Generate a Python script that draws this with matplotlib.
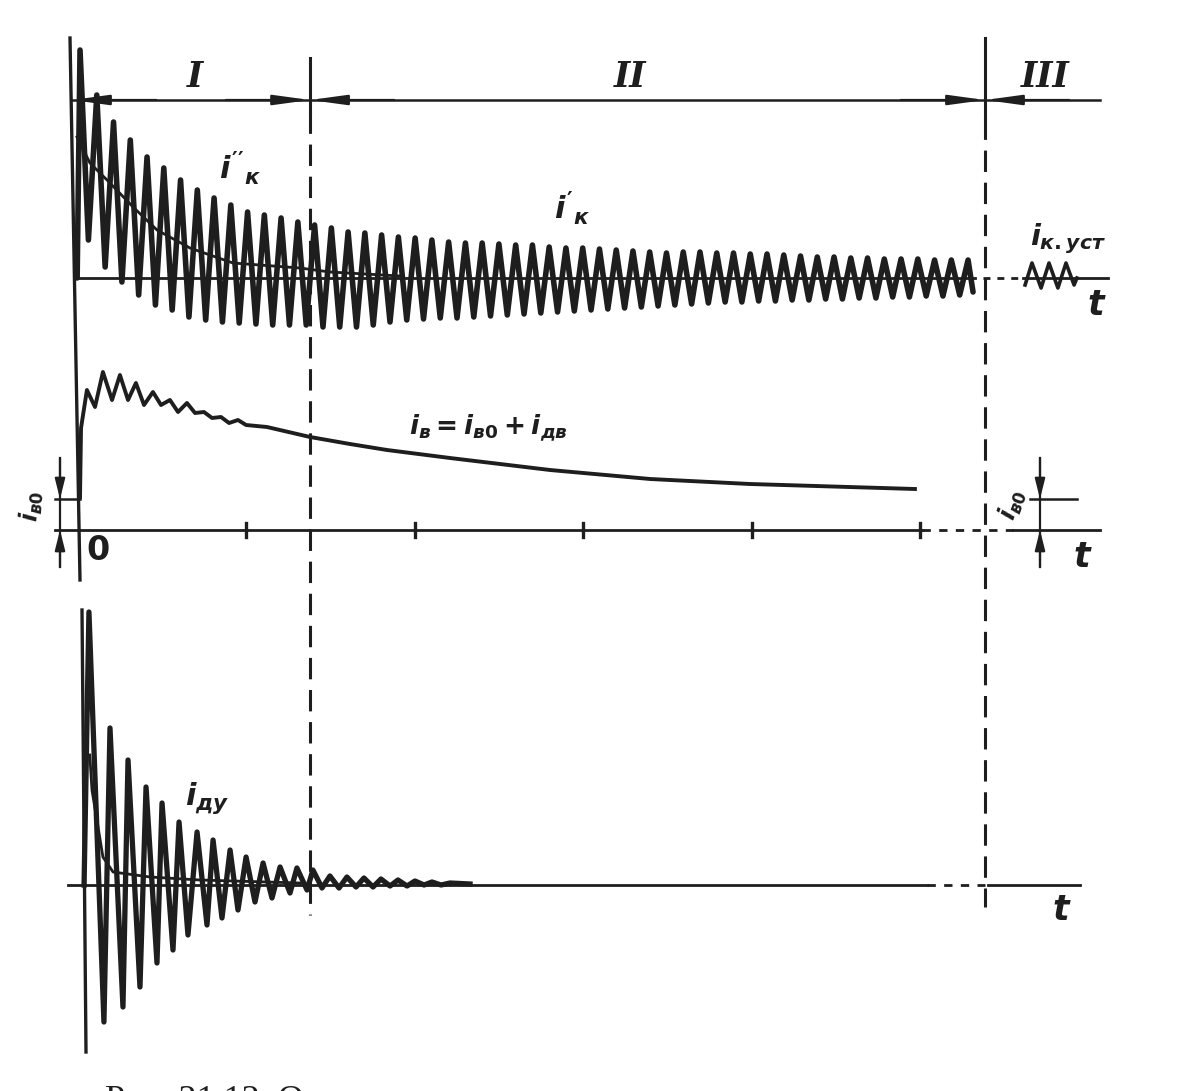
import numpy as np
import matplotlib
matplotlib.use("Agg")
import matplotlib.pyplot as plt

plt.rcParams['mathtext.fontset'] = 'custom'
plt.rcParams['mathtext.it'] = 'DejaVu Sans:italic:bold'
plt.rcParams['mathtext.rm'] = 'DejaVu Sans:bold'
plt.rcParams['mathtext.bf'] = 'DejaVu Sans:bold'

INK = '#1e1e1e'

# ------------------------------------------------------------------ data
time_ticks = [1, 2, 3, 4, 5]
t_boundaries = [1.378, 5.386]            # I | II | III
region_labels = ['I', 'II', 'III']
region_label_t = [0.695, 3.278, 5.742]

# stator short-circuit current i_k (top): period and per-cycle extremes
ik_period = 0.0995
ik_first_peak_t = 0.012
ik_peaks = [2.28, 1.83, 1.56, 1.38, 1.21, 1.10, 0.98, 0.88, 0.80, 0.73,
            0.66, 0.63, 0.60, 0.56, 0.53, 0.50, 0.46, 0.45, 0.43, 0.41,
            0.40, 0.38, 0.36, 0.35, 0.35, 0.34, 0.33, 0.33, 0.31, 0.30,
            0.30, 0.29, 0.28, 0.27, 0.26, 0.25, 0.26, 0.26, 0.25, 0.25,
            0.24, 0.24, 0.23, 0.22, 0.21, 0.21, 0.20, 0.20, 0.19, 0.19,
            0.19, 0.18, 0.18, 0.18]
ik_troughs = [0.38, 0.11, -0.04, -0.17, -0.27, -0.32, -0.39, -0.42, -0.44, -0.45,
              -0.46, -0.47, -0.47, -0.47, -0.49, -0.49, -0.49, -0.47, -0.44, -0.42,
              -0.41, -0.40, -0.40, -0.39, -0.38, -0.37, -0.36, -0.35, -0.34, -0.33,
              -0.32, -0.31, -0.30, -0.29, -0.28, -0.27, -0.26, -0.25, -0.24, -0.24,
              -0.23, -0.23, -0.22, -0.22, -0.21, -0.21, -0.20, -0.20, -0.19, -0.19,
              -0.18, -0.18, -0.17]
ik_start = (-0.005, 0.0)
ik_end = (5.315, -0.14)
# aperiodic (centre) line of i_k
ik_aper_t = [-0.006, 0.071, 0.190, 0.327, 0.469, 0.665, 0.920, 1.318, 1.496, 1.912]
ik_aper = [1.41, 1.15, 0.95, 0.71, 0.48, 0.30, 0.15, 0.10, 0.06, 0.02]
# steady-state current sketch (region III)
ik_steady_t = [5.624, 5.665, 5.719, 5.766, 5.819, 5.867, 5.915, 5.932]
ik_steady = [-0.07, 0.15, -0.10, 0.15, -0.10, 0.15, -0.07, 0.0]

# field current i_v (middle)
iv0 = 0.31
iv_t = [0.012, 0.018, 0.053, 0.101, 0.148, 0.202, 0.249, 0.297, 0.344, 0.392,
        0.445, 0.493, 0.546, 0.594, 0.647, 0.695, 0.748, 0.796, 0.849, 0.897,
        0.950, 0.998, 1.122, 1.378, 1.615, 1.835, 2.209, 2.803, 3.397, 3.990, 4.970]
iv = [0.33, 1.02, 1.40, 1.23, 1.58, 1.30, 1.55, 1.30, 1.47, 1.25,
      1.38, 1.25, 1.30, 1.18, 1.27, 1.17, 1.18, 1.12, 1.13, 1.07,
      1.10, 1.05, 1.03, 0.93, 0.86, 0.80, 0.72, 0.60, 0.51, 0.46, 0.41]

# damper winding current i_dy (bottom)
idy_t = [0.036, 0.065, 0.154, 0.190, 0.267, 0.297, 0.368, 0.404, 0.469, 0.499,
         0.564, 0.600, 0.653, 0.707, 0.766, 0.802, 0.855, 0.903, 0.950, 0.998,
         1.051, 1.099, 1.152, 1.200, 1.259, 1.300, 1.360, 1.395, 1.449, 1.496,
         1.550, 1.597, 1.651, 1.698, 1.752, 1.799, 1.853, 1.900, 1.954, 2.001,
         2.055, 2.102, 2.156, 2.209, 2.328]
idy = [0.0, 2.73, -1.37, 1.57, -1.22, 1.25, -1.02, 0.98, -0.78, 0.82,
       -0.65, 0.63, -0.50, 0.53, -0.40, 0.45, -0.33, 0.35, -0.25, 0.28,
       -0.17, 0.22, -0.13, 0.18, -0.08, 0.17, -0.05, 0.15, -0.03, 0.09,
       -0.03, 0.08, -0.02, 0.07, -0.02, 0.06, -0.01, 0.05, -0.01, 0.04,
       0.00, 0.03, 0.00, 0.02, 0.01]
idy_aper_t = [0.070, 0.083, 0.148, 0.208, 0.428, 0.724, 1.318]
idy_aper = [1.30, 0.95, 0.28, 0.13, 0.08, 0.05, 0.02]

caption = "Рис. 21.12. О"

# ------------------------------------------------------------------ layout
W, H = 1192, 1091
X0, SX = 78.0, 168.4          # pixel of t = 0, pixels per time unit
PX = 100.0                    # pixels per current unit
XL = (-X0 / SX, (W - X0) / SX)

fig = plt.figure(figsize=(W / 100, H / 100), dpi=100)
fig.patch.set_facecolor('white')


def panel(row_top, row_bot, zero_row):
    ax = fig.add_axes([0, 1 - row_bot / H, 1, (row_bot - row_top) / H])
    ax.set_xlim(*XL)
    ax.set_ylim(-(row_bot - zero_row) / PX, (zero_row - row_top) / PX)
    ax.axis('off')
    ax.patch.set_alpha(0)
    return ax


ax_top = panel(0, 340, 278)
ax_mid = panel(340, 600, 530)
ax_bot = panel(600, H, 885)
ov = fig.add_axes([0, 0, 1, 1])
ov.set_xlim(*XL)
ov.set_ylim(H, 0)
ov.axis('off')
ov.patch.set_alpha(0)

LW_AX = 2.0


def arrowhead(ax, tip, tail, hl=2.2, hw=0.3, lw=1.6):
    ax.annotate('', xy=tip, xytext=tail,
                arrowprops=dict(arrowstyle=f'-|>,head_length={hl},head_width={hw}',
                                color=INK, lw=lw, shrinkA=0, shrinkB=0))


def t_of(px):
    return (px - X0) / SX

# ------------------------------------------------------------------ frame lines (overlay)
ov.plot([t_of(70), t_of(80)], [38, 580], color=INK, lw=2.4)
ov.plot([t_of(82), t_of(86)], [610, 1052], color=INK, lw=2.4)
b1, b2 = t_boundaries
ov.plot([b1, b1], [58, 112], color=INK, lw=2.2)
ov.plot([b1, b1], [112, 915], color=INK, lw=2.2, ls=(0, (7, 3.5)))
ov.plot([b2, b2], [38, 118], color=INK, lw=2.2)
ov.plot([b2, b2], [118, 907], color=INK, lw=2.2, ls=(0, (7, 3.5)))

# ------------------------------------------------------------------ top diagram
ax_top.plot([t_of(75), t_of(975)], [0, 0], color=INK, lw=LW_AX)
ax_top.plot([t_of(983), t_of(1023)], [0, 0], color=INK, lw=LW_AX, ls=(0, (2.5, 2.5)))
ax_top.plot([t_of(1023), t_of(1108)], [0, 0], color=INK, lw=LW_AX)

n = len(ik_peaks)
pk_t = ik_first_peak_t + ik_period * np.arange(n)
tr_t = pk_t[:len(ik_troughs)] + ik_period / 2
ts, vs = [ik_start[0]], [ik_start[1]]
for k in range(n):
    ts.append(pk_t[k]); vs.append(ik_peaks[k])
    if k < len(ik_troughs):
        ts.append(tr_t[k]); vs.append(ik_troughs[k])
ts.append(ik_end[0]); vs.append(ik_end[1])
ax_top.plot(ts, vs, color=INK, lw=4.0, solid_joinstyle='round', solid_capstyle='round')
ax_top.plot(ik_aper_t, ik_aper, color=INK, lw=2.0)
ax_top.plot(ik_steady_t, ik_steady, color=INK, lw=2.6, solid_joinstyle='round')

# stage dimension line
y_dim = 1.78
ax_top.plot([t_of(72), t_of(1100)], [y_dim, y_dim], color=INK, lw=1.8)
arrowhead(ax_top, (t_of(72), y_dim), (t_of(72) + 0.5, y_dim))
arrowhead(ax_top, (b1, y_dim), (b1 - 0.5, y_dim))
arrowhead(ax_top, (b1, y_dim), (b1 + 0.5, y_dim))
arrowhead(ax_top, (b2, y_dim), (b2 - 0.5, y_dim))
arrowhead(ax_top, (b2, y_dim), (b2 + 0.5, y_dim))
for lab, tl in zip(region_labels, region_label_t):
    ax_top.text(tl, 2.01, lab, fontsize=25, family='DejaVu Serif', style='italic',
                weight='bold', ha='center', va='center', color=INK)

ax_top.text(0.962, 1.10, r"$i''_к$", fontsize=22, ha='center', va='center', color=INK)
ax_top.text(2.933, 0.70, r"$i'_к$", fontsize=22, ha='center', va='center', color=INK)
ax_top.text(5.879, 0.39, r"$i_{к.уст}$", fontsize=21, ha='center', va='center', color=INK)
ax_top.text(6.051, -0.27, r"$t$", fontsize=25, ha='center', va='center', color=INK)

# ------------------------------------------------------------------ middle diagram
ax_mid.plot([t_of(55), t_of(922)], [0, 0], color=INK, lw=LW_AX)
ax_mid.plot([t_of(922), t_of(1013)], [0, 0], color=INK, lw=LW_AX, ls=(0, (3, 3)))
ax_mid.plot([t_of(1013), t_of(1100)], [0, 0], color=INK, lw=LW_AX)
for tk in time_ticks:
    ax_mid.plot([tk, tk], [-0.07, 0.07], color=INK, lw=2.4)
ax_mid.plot(iv_t, iv, color=INK, lw=2.8, solid_joinstyle='round')

for t_line0, t_line1, t_arr in [(t_of(55), t_of(80), t_of(60)),
                                (t_of(1030), t_of(1077), t_of(1040))]:
    ax_mid.plot([t_line0, t_line1], [iv0, iv0], color=INK, lw=1.8)
    ax_mid.plot([t_arr, t_arr], [0.72, -0.37], color=INK, lw=1.6)
    arrowhead(ax_mid, (t_arr, iv0), (t_arr, 0.72), hl=1.2, hw=0.3)
    arrowhead(ax_mid, (t_arr, 0.0), (t_arr, -0.37), hl=1.2, hw=0.3)

ax_mid.text(2.44, 1.02, r"$i_в = i_{в0} + i_{дв}$", fontsize=19, ha='center',
            va='center', color=INK)
ax_mid.text(-0.275, 0.24, r"$i_{в0}$", fontsize=17, rotation=85, ha='center',
            va='center', color=INK)
ax_mid.text(5.55, 0.25, r"$i_{в0}$", fontsize=17, rotation=70, ha='center',
            va='center', color=INK)
ax_mid.text(0.119, -0.20, r"$0$", fontsize=24, ha='center', va='center', color=INK)
ax_mid.text(5.968, -0.27, r"$t$", fontsize=25, ha='center', va='center', color=INK)

# ------------------------------------------------------------------ bottom diagram
ax_bot.plot([t_of(68), t_of(927)], [0, 0], color=INK, lw=LW_AX)
ax_bot.plot([t_of(927), t_of(985)], [0, 0], color=INK, lw=LW_AX, ls=(0, (3, 3)))
ax_bot.plot([t_of(988), t_of(1080)], [0, 0], color=INK, lw=LW_AX)
ax_bot.plot(idy_t, idy, color=INK, lw=3.8, solid_joinstyle='round')
ax_bot.plot(idy_aper_t, idy_aper, color=INK, lw=2.0)
ax_bot.text(0.766, 0.87, r"$i_{ду}$", fontsize=22, ha='center', va='center', color=INK)
ax_bot.text(5.843, -0.25, r"$t$", fontsize=25, ha='center', va='center', color=INK)

# caption (cut off by the lower edge, as in the scan)
fig.text(105 / W, 1 - 1110 / H, caption, fontsize=26,
         family='Liberation Serif', va='baseline', ha='left', color=INK)

fig.savefig('out.png', dpi=100, facecolor='white')
